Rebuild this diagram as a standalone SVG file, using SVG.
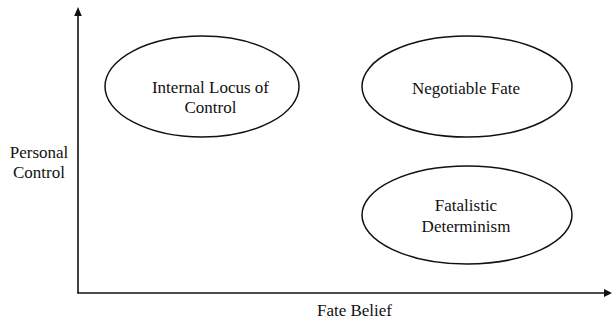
<svg xmlns="http://www.w3.org/2000/svg" width="612" height="320" viewBox="0 0 612 320">
<style>
text{font-size:17px;fill:#111;text-anchor:middle}
.node ellipse{fill:#fff;stroke:#111;stroke-width:1.5}
.axis{stroke:#111;stroke-width:1.6;fill:none}
.head{fill:#111}
</style>
<rect width="612" height="320" fill="#fff"/>
<g id="connectors">
<line class="axis" x1="78" y1="293" x2="78" y2="14"/>
<polygon class="head" points="78,7 74.2,16 81.8,16"/>
<line class="axis" x1="77.2" y1="293" x2="606" y2="293"/>
<polygon class="head" points="612,293 604,289 604,297"/>
</g>
<g font-family="Liberation Serif, Times New Roman, DejaVu Serif, serif">
<g id="node-internal" class="node">
<ellipse cx="202" cy="86.5" rx="97" ry="50.5"/>
<text x="210.5" y="93">Internal Locus of</text>
<text x="210.5" y="113">Control</text>
</g>
<g id="node-negotiable" class="node">
<ellipse cx="467" cy="86.5" rx="105" ry="50.5"/>
<text x="466" y="94">Negotiable Fate</text>
</g>
<g id="node-fatalistic" class="node">
<ellipse cx="467" cy="215" rx="105" ry="49"/>
<text x="466" y="210.5">Fatalistic</text>
<text x="466" y="231.5">Determinism</text>
</g>
<g id="label-y">
<text x="39" y="157.5">Personal</text>
<text x="39" y="178">Control</text>
</g>
<g id="label-x">
<text x="354.5" y="316">Fate Belief</text>
</g>
</g>
</svg>
